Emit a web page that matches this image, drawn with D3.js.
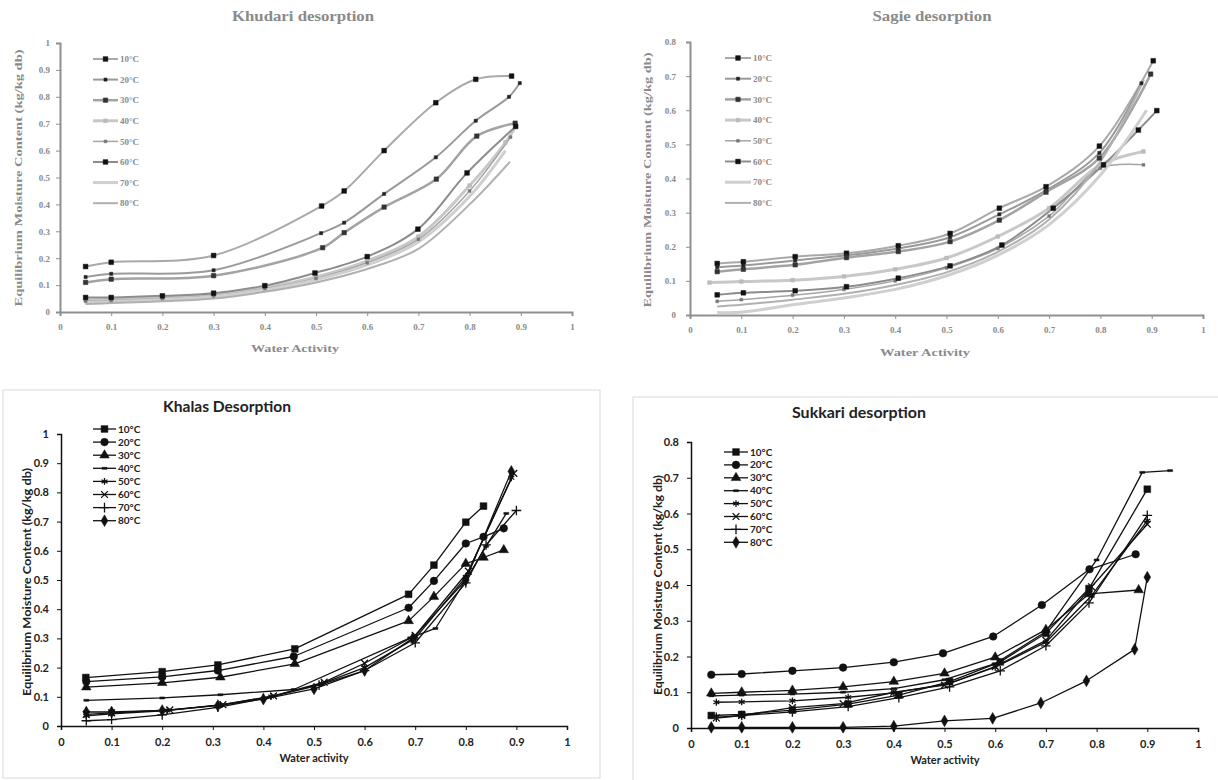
<!DOCTYPE html>
<html>
<head>
<meta charset="utf-8" />
<title>Desorption isotherms</title>
<script src="https://d3js.org/d3.v7.min.js"></script>
<style>
  body { margin: 0; background: #fff; }
  svg { display: block; }
</style>
</head>
<body>
<svg id="viz" width="1218" height="780"></svg>
<script>

// temperatures shown in every legend
var temps = ["10°C", "20°C", "30°C", "40°C", "50°C", "60°C", "70°C", "80°C"];
var awTicks = [0, 0.1, 0.2, 0.3, 0.4, 0.5, 0.6, 0.7, 0.8, 0.9, 1];

// Khudari desorption: [water activity, EMC] for 10..80 °C
var khudariSeries = [
  [[0.05,0.169],[0.1,0.185],[0.3,0.21],[0.511,0.394],[0.555,0.45],[0.633,0.6],[0.734,0.778],[0.812,0.865],[0.882,0.877]],
  [[0.05,0.13],[0.1,0.142],[0.3,0.155],[0.51,0.293],[0.555,0.332],[0.633,0.439],[0.734,0.575],[0.812,0.711],[0.877,0.8],[0.898,0.851]],
  [[0.05,0.11],[0.1,0.122],[0.3,0.135],[0.513,0.239],[0.555,0.295],[0.633,0.39],[0.735,0.494],[0.814,0.654],[0.889,0.702]],
  [[0.05,0.045],[0.1,0.047],[0.2,0.053],[0.3,0.063],[0.4,0.09],[0.5,0.13],[0.6,0.19],[0.7,0.28],[0.8,0.47],[0.87,0.63],[0.89,0.69]],
  [[0.05,0.04],[0.1,0.043],[0.2,0.05],[0.3,0.06],[0.4,0.087],[0.5,0.125],[0.6,0.183],[0.7,0.27],[0.8,0.45],[0.88,0.65]],
  [[0.05,0.054],[0.1,0.054],[0.2,0.06],[0.3,0.07],[0.4,0.098],[0.498,0.145],[0.6,0.206],[0.699,0.308],[0.795,0.517],[0.89,0.69]],
  [[0.05,0.035],[0.1,0.038],[0.2,0.046],[0.3,0.057],[0.4,0.082],[0.5,0.12],[0.6,0.175],[0.7,0.26],[0.8,0.43],[0.87,0.6]],
  [[0.05,0.03],[0.1,0.033],[0.2,0.04],[0.3,0.05],[0.4,0.075],[0.5,0.11],[0.6,0.16],[0.7,0.235],[0.8,0.4],[0.879,0.559]]
];

// Sagie desorption
var sagieSeries = [
  [[0.053,0.151],[0.104,0.156],[0.205,0.171],[0.305,0.181],[0.406,0.203],[0.507,0.239],[0.603,0.313],[0.694,0.376],[0.798,0.495],[0.903,0.745]],
  [[0.053,0.14],[0.104,0.145],[0.205,0.16],[0.305,0.175],[0.406,0.195],[0.507,0.228],[0.603,0.295],[0.694,0.365],[0.798,0.475],[0.88,0.679]],
  [[0.053,0.127],[0.104,0.134],[0.205,0.147],[0.305,0.168],[0.406,0.186],[0.507,0.215],[0.603,0.278],[0.694,0.36],[0.798,0.46],[0.898,0.706]],
  [[0.038,0.095],[0.1,0.098],[0.2,0.102],[0.3,0.113],[0.4,0.134],[0.5,0.167],[0.6,0.23],[0.7,0.313],[0.8,0.44],[0.884,0.479]],
  [[0.053,0.04],[0.1,0.045],[0.2,0.058],[0.3,0.075],[0.4,0.1],[0.5,0.138],[0.6,0.195],[0.7,0.29],[0.8,0.43],[0.884,0.44]],
  [[0.053,0.059],[0.104,0.065],[0.205,0.071],[0.305,0.083],[0.406,0.108],[0.507,0.144],[0.608,0.205],[0.708,0.313],[0.806,0.44],[0.874,0.542],[0.91,0.599]],
  [[0.053,0.007],[0.104,0.009],[0.2,0.03],[0.3,0.05],[0.4,0.075],[0.5,0.115],[0.6,0.175],[0.7,0.265],[0.8,0.41],[0.89,0.6]],
  [[0.053,0.025],[0.1,0.03],[0.2,0.045],[0.3,0.062],[0.4,0.088],[0.5,0.125],[0.6,0.185],[0.7,0.28],[0.8,0.45],[0.885,0.69]]
];

// Khalas desorption
var khalasSeries = [
  [[0.049,0.166],[0.2,0.186],[0.31,0.209],[0.462,0.264],[0.687,0.451],[0.737,0.551],[0.8,0.698],[0.835,0.753]],
  [[0.05,0.152],[0.2,0.168],[0.31,0.19],[0.46,0.238],[0.687,0.405],[0.737,0.497],[0.8,0.625],[0.835,0.648],[0.875,0.677]],
  [[0.05,0.133],[0.2,0.148],[0.315,0.167],[0.462,0.213],[0.687,0.36],[0.737,0.443],[0.8,0.556],[0.835,0.577],[0.875,0.603]],
  [[0.05,0.088],[0.2,0.096],[0.315,0.107],[0.46,0.125],[0.69,0.302],[0.74,0.334],[0.8,0.5],[0.84,0.615],[0.88,0.728]],
  [[0.05,0.035],[0.1,0.042],[0.21,0.053],[0.315,0.072],[0.415,0.101],[0.515,0.145],[0.6,0.2],[0.7,0.3],[0.8,0.51],[0.89,0.85]],
  [[0.05,0.04],[0.1,0.045],[0.215,0.055],[0.32,0.073],[0.42,0.103],[0.52,0.15],[0.6,0.215],[0.7,0.31],[0.805,0.53],[0.895,0.865]],
  [[0.05,0.018],[0.1,0.022],[0.2,0.038],[0.31,0.064],[0.4,0.094],[0.51,0.14],[0.6,0.19],[0.7,0.285],[0.8,0.49],[0.84,0.62],[0.9,0.738]],
  [[0.05,0.048],[0.1,0.048],[0.2,0.053],[0.31,0.07],[0.4,0.092],[0.5,0.127],[0.6,0.19],[0.695,0.3],[0.8,0.5],[0.89,0.872]]
];

// Sukkari desorption
var sukkariSeries = [
  [[0.04,0.035],[0.1,0.038],[0.2,0.05],[0.31,0.067],[0.41,0.092],[0.51,0.13],[0.61,0.185],[0.7,0.265],[0.785,0.39],[0.9,0.668]],
  [[0.04,0.149],[0.1,0.151],[0.2,0.16],[0.3,0.169],[0.4,0.184],[0.497,0.209],[0.596,0.256],[0.692,0.344],[0.786,0.444],[0.877,0.486]],
  [[0.04,0.097],[0.1,0.1],[0.2,0.105],[0.3,0.115],[0.4,0.13],[0.5,0.153],[0.6,0.198],[0.7,0.275],[0.785,0.375],[0.883,0.386]],
  [[0.04,0.09],[0.1,0.092],[0.2,0.095],[0.3,0.1],[0.4,0.11],[0.5,0.135],[0.6,0.18],[0.7,0.27],[0.8,0.47],[0.89,0.715],[0.945,0.72]],
  [[0.05,0.072],[0.1,0.073],[0.2,0.076],[0.31,0.086],[0.4,0.098],[0.51,0.125],[0.6,0.17],[0.7,0.24],[0.79,0.37],[0.9,0.58]],
  [[0.05,0.028],[0.1,0.035],[0.2,0.057],[0.3,0.068],[0.4,0.1],[0.5,0.12],[0.6,0.172],[0.7,0.245],[0.79,0.395],[0.9,0.57]],
  [[0.05,0.03],[0.1,0.035],[0.2,0.045],[0.31,0.06],[0.41,0.085],[0.51,0.115],[0.61,0.16],[0.7,0.23],[0.785,0.35],[0.9,0.595]],
  [[0.04,0.002],[0.1,0.002],[0.2,0.002],[0.3,0.002],[0.4,0.005],[0.5,0.02],[0.595,0.027],[0.69,0.07],[0.78,0.132],[0.875,0.22],[0.9,0.422]]
];

var svg = d3.select("#viz");

// small horizontal bar used for the 40°C marker
var symbolDash = { draw: function(ctx, size) { ctx.rect(-2.5, -1, 5, 2); } };

// marker styles for the two clean (bottom) charts
var blackStyles = [
  { sym: d3.symbolSquare, size: 46, fill: true },
  { sym: d3.symbolCircle, size: 46, fill: true },
  { sym: d3.symbolTriangle, size: 40, fill: true },
  { sym: symbolDash, size: 10, fill: true },
  { sym: d3.symbolAsterisk || d3.symbolCross, size: 32, fill: false },
  { sym: d3.symbolTimes || d3.symbolCross, size: 32, fill: false },
  { sym: d3.symbolPlus || d3.symbolCross, size: 32, fill: false },
  { sym: d3.symbolDiamond, size: 40, fill: true }
];

// grey smoothed styles for the two scanned (top) charts
var greyStyles = [
  { line: "#a9a9a9", w: 2, sym: d3.symbolSquare, size: 22, fill: true, mc: "#111" },
  { line: "#9a9a9a", w: 2, sym: d3.symbolSquare, size: 10, fill: true, mc: "#222" },
  { line: "#a3a3a3", w: 2.5, sym: d3.symbolSquare, size: 20, fill: true, mc: "#333" },
  { line: "#c8c8c8", w: 3, sym: d3.symbolSquare, size: 14, fill: true, mc: "#bbb" },
  { line: "#a5a5a5", w: 1.5, sym: d3.symbolSquare, size: 8, fill: true, mc: "#777" },
  { line: "#8c8c8c", w: 2, sym: d3.symbolSquare, size: 22, fill: true, mc: "#111" },
  { line: "#cfcfcf", w: 3, sym: null },
  { line: "#b0b0b0", w: 2, sym: null }
];

function drawPanel(cfg) {
  var g = svg.append("g");

  if (cfg.frame) {
    g.append("rect")
      .attr("x", cfg.frame[0]).attr("y", cfg.frame[1])
      .attr("width", cfg.frame[2]).attr("height", cfg.frame[3])
      .attr("fill", "none").attr("stroke", "#d9d9d9").attr("stroke-width", 1);
  }

  var x = d3.scaleLinear().domain([0, 1]).range([cfg.left, cfg.right]);
  var y = d3.scaleLinear().domain([0, cfg.ymax]).range([cfg.bottom, cfg.top]);
  var fmt = d3.format("~g");

  var xAxis = g.append("g")
    .attr("transform", "translate(0," + cfg.bottom + ")")
    .call(d3.axisBottom(x).tickValues(awTicks).tickSize(4).tickPadding(cfg.xPad).tickFormat(fmt));
  var yAxis = g.append("g")
    .attr("transform", "translate(" + cfg.left + ",0)")
    .call(d3.axisLeft(y).tickValues(cfg.yTicks).tickSize(4).tickPadding(cfg.yPad).tickFormat(fmt));

  [xAxis, yAxis].forEach(function(a) {
    a.select(".domain").attr("stroke", cfg.axisColor).attr("stroke-width", cfg.axisWidth);
    a.selectAll(".tick line").attr("stroke", cfg.axisColor).attr("stroke-width", 1);
    a.selectAll(".tick text")
      .attr("fill", cfg.textColor)
      .style("font-family", cfg.font)
      .style("font-weight", "bold")
      .style("font-size", cfg.tickSize + "px");
  });

  var line = d3.line()
    .x(function(d) { return x(d[0]); })
    .y(function(d) { return y(d[1]); })
    .curve(cfg.smooth ? d3.curveCatmullRom.alpha(0.5) : d3.curveLinear);

  cfg.series.forEach(function(s, i) {
    var st = cfg.styles[i];
    g.append("path")
      .datum(s)
      .attr("d", line)
      .attr("fill", "none")
      .attr("stroke", st.line || "#111")
      .attr("stroke-width", st.w || 1.3)
      .attr("stroke-linejoin", "round");
  });

  cfg.series.forEach(function(s, i) {
    var st = cfg.styles[i];
    if (!st.sym) return;
    var col = st.mc || "#111";
    g.selectAll(null)
      .data(s)
      .enter().append("path")
      .attr("transform", function(d) { return "translate(" + x(d[0]) + "," + y(d[1]) + ")"; })
      .attr("d", d3.symbol().type(st.sym).size(st.size))
      .attr("fill", st.fill ? col : "none")
      .attr("stroke", col)
      .attr("stroke-width", st.fill ? 0.5 : 1.3);
  });

  // legend
  var lg = cfg.legend;
  temps.forEach(function(t, i) {
    var st = cfg.styles[i];
    var ly = lg.y + i * lg.step;
    g.append("line")
      .attr("x1", lg.x1).attr("x2", lg.x2).attr("y1", ly).attr("y2", ly)
      .attr("stroke", st.line || "#111").attr("stroke-width", st.w || 1.3);
    if (st.sym) {
      var col = st.mc || "#111";
      g.append("path")
        .attr("transform", "translate(" + (lg.x1 + lg.x2) / 2 + "," + ly + ")")
        .attr("d", d3.symbol().type(st.sym).size(st.size))
        .attr("fill", st.fill ? col : "none")
        .attr("stroke", col)
        .attr("stroke-width", st.fill ? 0.5 : 1.3);
    }
    g.append("text")
      .attr("x", lg.x2 + 2).attr("y", ly)
      .attr("dy", "0.35em")
      .attr("fill", cfg.textColor)
      .style("font-family", cfg.font)
      .style("font-weight", cfg.legendWeight)
      .style("font-size", lg.size + "px")
      .text(t);
  });

  // title and axis labels
  function label(txt, px, py, size, len, rotate) {
    var el = g.append("text")
      .attr("text-anchor", "middle")
      .attr("fill", cfg.textColor)
      .style("font-family", cfg.font)
      .style("font-weight", "bold")
      .style("font-size", size + "px")
      .attr("textLength", len)
      .attr("lengthAdjust", "spacingAndGlyphs")
      .text(txt);
    if (rotate) {
      el.attr("transform", "translate(" + px + "," + py + ") rotate(-90)");
    } else {
      el.attr("x", px).attr("y", py);
    }
  }
  label(cfg.title, cfg.titlePos[0], cfg.titlePos[1], cfg.titleSize, cfg.titleLen, false);
  label(cfg.xLabel, cfg.xLabelPos[0], cfg.xLabelPos[1], cfg.labelSize, cfg.xLabelLen, false);
  label("Equilibrium Moisture Content (kg/kg db)", cfg.yLabelPos[0], cfg.yLabelPos[1], cfg.labelSize, cfg.yLabelLen, true);
}

var serif = "'Liberation Serif', 'DejaVu Serif', serif";
var sans = "Lato, 'Open Sans', sans-serif";

drawPanel({
  series: khudariSeries, styles: greyStyles, smooth: true,
  left: 60, right: 572, top: 43, bottom: 312, ymax: 1,
  yTicks: [0, 0.1, 0.2, 0.3, 0.4, 0.5, 0.6, 0.7, 0.8, 0.9, 1],
  axisColor: "#8f8f8f", axisWidth: 2, textColor: "#8a8a8a", font: serif,
  tickSize: 9, xPad: 8, yPad: 6,
  legend: { x1: 93, x2: 118, y: 59, step: 20.6, size: 9 }, legendWeight: "bold",
  title: "Khudari desorption", titlePos: [303, 21], titleSize: 14, titleLen: 142,
  xLabel: "Water Activity", xLabelPos: [295, 352], xLabelLen: 88,
  yLabelPos: [22, 178], labelSize: 11, yLabelLen: 257
});

drawPanel({
  series: sagieSeries, styles: greyStyles, smooth: true,
  left: 690, right: 1203, top: 42, bottom: 315, ymax: 0.8,
  yTicks: [0, 0.1, 0.2, 0.3, 0.4, 0.5, 0.6, 0.7, 0.8],
  axisColor: "#8f8f8f", axisWidth: 2, textColor: "#8a8a8a", font: serif,
  tickSize: 9, xPad: 8, yPad: 10,
  legend: { x1: 725, x2: 751, y: 58, step: 20.7, size: 9 }, legendWeight: "bold",
  title: "Sagie desorption", titlePos: [932, 21], titleSize: 14, titleLen: 119,
  xLabel: "Water Activity", xLabelPos: [925, 356], xLabelLen: 90,
  yLabelPos: [651, 180], labelSize: 11, yLabelLen: 255
});

drawPanel({
  series: khalasSeries, styles: blackStyles, smooth: false,
  frame: [3, 390, 597, 388],
  left: 61, right: 567, top: 434, bottom: 726, ymax: 1,
  yTicks: [0, 0.1, 0.2, 0.3, 0.4, 0.5, 0.6, 0.7, 0.8, 0.9, 1],
  axisColor: "#111", axisWidth: 1.5, textColor: "#222", font: sans,
  tickSize: 11, xPad: 8, yPad: 8,
  legend: { x1: 93, x2: 116, y: 429, step: 13.1, size: 10 }, legendWeight: "bold",
  title: "Khalas Desorption", titlePos: [227, 412], titleSize: 15, titleLen: 128,
  xLabel: "Water activity", xLabelPos: [314, 762], xLabelLen: 69,
  yLabelPos: [31, 582], labelSize: 12, yLabelLen: 228
});

drawPanel({
  series: sukkariSeries, styles: blackStyles, smooth: false,
  frame: [633, 397, 600, 400],
  left: 691, right: 1198, top: 442, bottom: 728, ymax: 0.8,
  yTicks: [0, 0.1, 0.2, 0.3, 0.4, 0.5, 0.6, 0.7, 0.8],
  axisColor: "#111", axisWidth: 1.5, textColor: "#222", font: sans,
  tickSize: 11, xPad: 8, yPad: 8,
  legend: { x1: 724, x2: 748, y: 452, step: 12.9, size: 10 }, legendWeight: "bold",
  title: "Sukkari desorption", titlePos: [859, 418], titleSize: 15, titleLen: 134,
  xLabel: "Water activity", xLabelPos: [945, 764], xLabelLen: 69,
  yLabelPos: [662, 585], labelSize: 12, yLabelLen: 220
});

</script>
</body>
</html>
